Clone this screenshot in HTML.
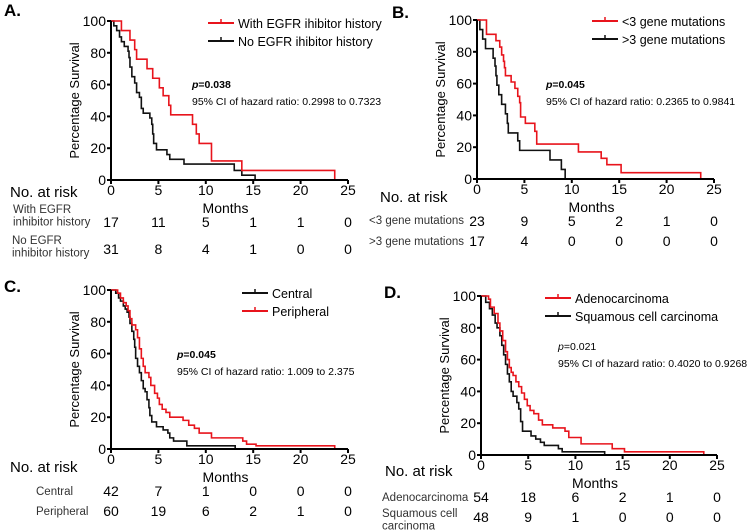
<!DOCTYPE html>
<html><head><meta charset="utf-8">
<style>
body{margin:0;background:#fff;}
svg{display:block;font-family:"Liberation Sans",sans-serif;}
</style></head>
<body>
<svg id="fig" width="750" height="531" viewBox="0 0 750 531"></svg>
<script>
// Panel A data
const aRedTimes=[0,1.1,2.0,2.5,2.7,3.8,4.4,5.1,5.5,6.1,6.3,8.6,9.0,9.3,10.6,13.8,23.6];
const aRedSurv=[100,94,88,82,76,70,64,58,53,47,41,35,29,23,12,6,0];
const aBlkTimes=[0,0.3,0.6,0.9,1.1,1.4,1.8,1.9,2.0,2.2,2.5,2.7,3.0,3.2,3.4,4.1,4.3,4.4,4.5,4.8,5.9,6.2,7.7,13.0,13.8,15.2];
const aBlkSurv=[100,97,94,90,87,84,81,77,71,65,61,55,52,45,42,39,35,29,23,19,16,13,10,6,3,0];
// Panel B data
const bRedTimes=[0,1.0,2.0,2.4,2.6,2.8,2.9,3.0,3.6,4.0,4.3,4.5,4.6,5.1,6.1,6.3,10.7,13.1,13.7,15.2,23.6];
const bRedSurv=[100,91,87,83,78,74,70,65,61,57,52,48,39,35,30,22,17,13,9,4,0];
const bBlkTimes=[0,0.3,0.6,0.9,1.7,1.9,2.0,2.1,2.3,2.6,3.0,3.2,3.3,4.3,4.5,7.7,8.9,9.3];
const bBlkSurv=[100,94,88,82,76,71,65,59,53,47,41,35,29,24,18,12,6,0];
// Panel C data
const cBlkTimes=[0,0.5,0.8,1.0,1.3,1.5,1.7,1.9,2.0,2.2,2.4,2.5,2.6,2.8,3.0,3.2,3.4,3.6,3.8,4.0,4.1,4.3,4.8,5.5,6.0,6.2,6.6,8.0,13.1];
const cBlkSurv=[100,98,95,93,90,88,86,83,79,74,69,64,57,52,48,43,38,36,31,26,21,17,14,12,10,7,5,2,0];
const cRedTimes=[0,0.7,1.0,1.3,1.6,1.8,2.0,2.2,2.6,2.8,3.0,3.2,3.4,3.6,4.0,4.2,4.6,4.9,5.1,5.4,5.8,6.2,7.6,8.2,8.8,9.3,10.6,13.9,14.3,15.3,23.6];
const cRedSurv=[100,98,95,92,90,87,82,78,75,70,63,57,52,48,45,40,35,32,28,25,23,20,18,15,13,10,7,5,3,2,0];
// Panel D data
const dRedTimes=[0,0.8,1.0,1.4,1.8,2.0,2.3,2.6,2.8,3.0,3.2,3.4,3.7,4.0,4.3,4.6,4.9,5.2,5.6,6.1,6.5,7.6,8.9,9.3,10.6,13.9,14.3,15.2,23.6];
const dRedSurv=[100,98,93,89,83,78,72,65,60,55,52,50,46,43,39,35,31,28,26,22,19,17,15,11,7,4,4,2,0];
const dBlkTimes=[0,0.5,0.9,1.2,1.5,1.7,2.0,2.2,2.4,2.6,2.8,3.0,3.2,3.4,3.8,4.0,4.2,4.4,5.3,5.8,6.3,6.7,8.2,8.6,13.1];
const dBlkSurv=[100,96,92,88,83,80,75,69,63,57,51,46,40,37,33,29,21,15,12,10,8,6,4,2,0];

const xTicks=[0,5,10,15,20,25];
const yTicks=[0,20,40,60,80,100];
const aRisk1=[17,11,5,1,1,0], aRisk2=[31,8,4,1,0,0];
const bRisk1=[23,9,5,2,1,0], bRisk2=[17,4,0,0,0,0];
const cRisk1=[42,7,1,0,0,0], cRisk2=[60,19,6,2,1,0];
const dRisk1=[54,18,6,2,1,0], dRisk2=[48,9,1,0,0,0];

const svg=document.getElementById('fig');
const NS='http://www.w3.org/2000/svg';
function el(tag,attrs,parent,text){const e=document.createElementNS(NS,tag);for(const k in attrs)e.setAttribute(k,attrs[k]);if(text!==undefined)e.textContent=text;(parent||svg).appendChild(e);return e;}

function panel(P){
  const g=el('g',{});
  
  
  const sx=v=>P.x0+(P.x1-P.x0)*v/25, sy=v=>P.y0+(P.y1-P.y0)*(100-v)/100;
  const lab=el('text',{x:P.lx,y:P.ly,'font-size':17,'font-weight':'bold'},g,P.id.toUpperCase()+'.');
  
  
  P.series.forEach(s=>{
    let d='M'+sx(s.t[0])+','+sy(s.s[0]);
    for(let i=1;i<s.t.length;i++){d+=' H'+sx(s.t[i])+' V'+sy(s.s[i]);}
    const p=el('path',{d:d,fill:'none',stroke:s.c,'stroke-width':1.6},g);
    
    
  });
  const ax=el('path',{d:`M${P.x0},${P.y0} V${P.y1} H${P.x1}`,fill:'none',stroke:'#000','stroke-width':2},g);
  
  
  xTicks.forEach(v=>{
    el('line',{x1:sx(v),x2:sx(v),y1:P.y1,y2:P.y1+4,stroke:'#000','stroke-width':2},g);
    const t=el('text',{x:sx(v),y:P.y1+15,'font-size':14,'text-anchor':'middle'},g,v);
    
    
  });
  yTicks.forEach(v=>{
    el('line',{x1:P.x0-4,x2:P.x0,y1:sy(v),y2:sy(v),stroke:'#000','stroke-width':2},g);
    const t=el('text',{x:P.x0-5,y:sy(v)+5,'font-size':14,'text-anchor':'end'},g,v);
    
    
  });
  const yt=el('text',{transform:`translate(${P.x0-32},${(P.y0+P.y1)/2}) rotate(-90)`,'font-size':13,'text-anchor':'middle'},g,'Percentage Survival');
  
  
  const xt=el('text',{x:(P.x0+P.x1)/2-4,y:P.y1+33,'font-size':14,'text-anchor':'middle'},g,'Months');
  
  
  P.legend.forEach((l,i)=>{
    const y=P.legY+i*18;
    el('line',{x1:P.legX,x2:P.legX+26,y1:y,y2:y,stroke:l.c,'stroke-width':2},g);
    el('line',{x1:P.legX+13,x2:P.legX+13,y1:y-4,y2:y,stroke:l.c,'stroke-width':1.5},g);
    const t=el('text',{x:P.legX+30,y:y+5,'font-size':12.5},g,l.label);
    
    
  });
  const pt=el('text',{x:P.px,y:P.py,'font-size':10.5,'font-weight':P.pbold?'bold':'normal'},g);
  
  
  el('tspan',{'font-style':'italic'},pt,'p');
  el('tspan',{},pt,'='+P.p);
  const ci=el('text',{x:P.px,y:P.py+17,'font-size':10.5},g,P.ci);
  
  
  const nr=el('text',{x:P.nrX,y:P.nrY,'font-size':15},g,'No. at risk');
  
  
  P.rows.forEach(r=>{
    r.label.forEach((ln,j)=>{
      const t=el('text',{x:r.lx,y:r.ly+j*12.5,'font-size':r.fs||11.5,'fill':'#333','text-anchor':r.anchor||'start'},g,ln);
      
      
    });
    r.vals.forEach((v,i)=>{
      const t=el('text',{x:sx(xTicks[i]),y:r.y,'font-size':14,'text-anchor':'middle'},g,v);
      
      
    });
  });
}

panel({id:'a',x0:111,x1:348,y0:21,y1:180,lx:4,ly:16,
  series:[{t:aBlkTimes,s:aBlkSurv,c:'#111',name:'no-egfr'},{t:aRedTimes,s:aRedSurv,c:'#e8141c',name:'with-egfr'}],
  legend:[{c:'#e8141c',label:'With EGFR ihibitor history'},{c:'#111',label:'No EGFR ihibitor history'}],legX:208,legY:23,
  px:192,py:88,pbold:true,p:'0.038',ci:'95% CI of hazard ratio: 0.2998 to 0.7323',
  nrX:10,nrY:197,
  rows:[{label:['With EGFR','inhibitor history'],lx:13,ly:213,y:227,vals:aRisk1},{label:['No EGFR','inhibitor history'],lx:12,ly:244,y:254,vals:aRisk2}]});
panel({id:'b',x0:477,x1:714,y0:20,y1:179,lx:392,ly:18,
  series:[{t:bBlkTimes,s:bBlkSurv,c:'#111',name:'gt3-mutations'},{t:bRedTimes,s:bRedSurv,c:'#e8141c',name:'lt3-mutations'}],
  legend:[{c:'#e8141c',label:'<3 gene mutations'},{c:'#111',label:'>3 gene mutations'}],legX:592,legY:21,
  px:546,py:88,pbold:true,p:'0.045',ci:'95% CI of hazard ratio: 0.2365 to 0.9841',
  nrX:380,nrY:202,
  rows:[{label:['<3 gene mutations'],lx:464,ly:224,anchor:'end',y:226,vals:bRisk1},{label:['>3 gene mutations'],lx:464,ly:245,anchor:'end',y:246,vals:bRisk2}]});
panel({id:'c',x0:111,x1:348,y0:290,y1:449,lx:4,ly:292,
  series:[{t:cBlkTimes,s:cBlkSurv,c:'#111',name:'central'},{t:cRedTimes,s:cRedSurv,c:'#e8141c',name:'peripheral'}],
  legend:[{c:'#111',label:'Central'},{c:'#e8141c',label:'Peripheral'}],legX:242,legY:293,
  px:177,py:358,pbold:true,p:'0.045',ci:'95% CI of hazard ratio: 1.009 to 2.375',
  nrX:10,nrY:472,
  rows:[{label:['Central'],lx:36,ly:495,y:496,vals:cRisk1},{label:['Peripheral'],lx:36,ly:515,y:516,vals:cRisk2}]});
panel({id:'d',x0:481,x1:717,y0:296,y1:455,lx:384,ly:298,
  series:[{t:dBlkTimes,s:dBlkSurv,c:'#111',name:'squamous'},{t:dRedTimes,s:dRedSurv,c:'#e8141c',name:'adenocarcinoma'}],
  legend:[{c:'#e8141c',label:'Adenocarcinoma'},{c:'#111',label:'Squamous cell carcinoma'}],legX:545,legY:298,
  px:558,py:350,pbold:false,p:'0.021',ci:'95% CI of  hazard ratio: 0.4020 to 0.9268',
  nrX:385,nrY:476,
  rows:[{label:['Adenocarcinoma'],lx:382,ly:501,y:502,vals:dRisk1},{label:['Squamous cell','carcinoma'],lx:382,ly:517,y:522,vals:dRisk2}]});
</script>
</body></html>
